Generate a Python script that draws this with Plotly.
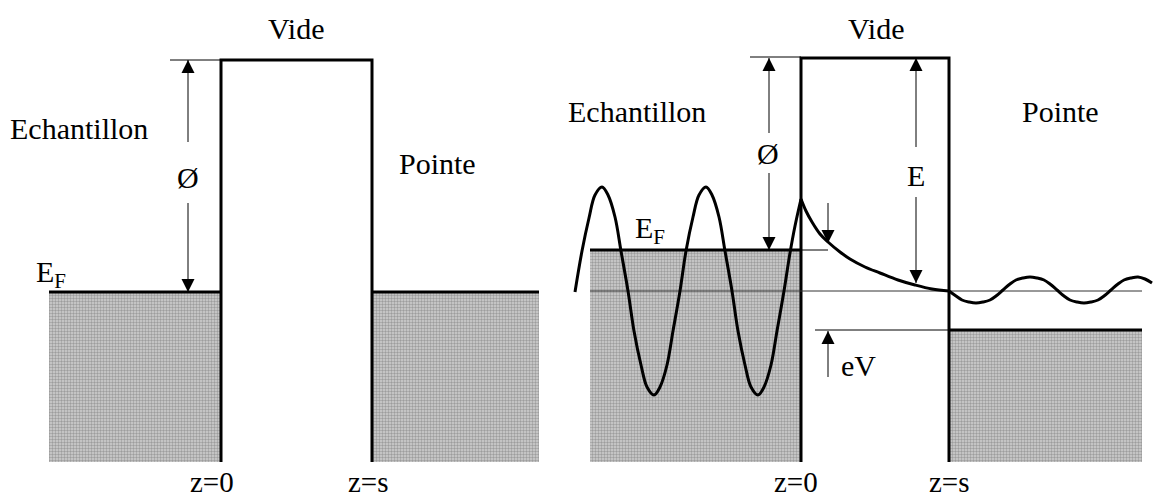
import plotly.graph_objects as go

W, H = 1153, 501
FONT = "Liberation Serif, Times New Roman, DejaVu Serif, serif"

# ---- energy profile, left diagram (no bias): Echantillon | Vide | Pointe ----
left_z0, left_zs = 221, 372          # barrier walls
left_top = 60                        # vacuum level
left_fermi = 292                     # Fermi level on both sides
left_bottom = 462
left_xmin, left_xmax = 49, 539

# ---- energy profile, right diagram (bias eV) ----
right_z0, right_zs = 801, 949
right_top = 58
right_fermi_s = 250                  # sample Fermi level
right_fermi_t = 330                  # tip Fermi level (shifted by eV)
right_E = 291                        # electron energy level
right_bottom = 462
right_xmin, right_xmax = 590, 1142

# wavefunction in the sample (standing wave)
wave_s_x = [575, 582, 589, 595, 602, 608, 615, 621, 628, 634, 641, 647, 654, 660, 667, 673,
            680, 686, 693, 699, 706, 712, 719, 725, 732, 738, 745, 751, 758, 764, 771, 777,
            784, 790, 795, 801]
wave_s_y = [292, 251, 218, 195, 187, 195, 217, 251, 291, 331, 365, 387, 395, 387, 365, 331,
            291, 251, 217, 195, 187, 195, 217, 251, 291, 331, 365, 387, 395, 387, 365, 331,
            291, 253, 226, 199]
# evanescent decay inside the barrier
decay_x = [801, 806, 812, 820, 828, 840, 850, 865, 880, 898, 915, 932, 949]
decay_y = [199, 211, 222, 234, 242, 252, 259, 267, 273, 280, 285, 289, 291]
# transmitted wave in the tip
wave_t_x = [949, 956, 962, 969, 976, 983, 990, 996, 1003, 1010, 1016, 1023, 1030, 1037, 1044,
            1050, 1057, 1064, 1070, 1077, 1084, 1091, 1098, 1104, 1111, 1118, 1124, 1131, 1138,
            1145, 1152]
wave_t_y = [291, 296, 300, 302, 303, 302, 300, 296, 290, 284, 280, 278, 277, 278, 280,
            284, 290, 296, 300, 302, 303, 302, 300, 296, 290, 284, 280, 278, 277, 279, 283]

fig = go.Figure()

pattern = dict(shape=".", fgcolor="#6a6a6a", bgcolor="#d0d0d0", size=3, solidity=0.5)


def box(x0, x1, y0, y1):
    fig.add_trace(go.Scatter(x=[x0, x1, x1, x0, x0], y=[y0, y0, y1, y1, y0], mode="lines",
                             line=dict(width=0), fill="toself", fillcolor="#c6c6c6",
                             fillpattern=pattern, hoverinfo="skip"))


def line(xs, ys, width=3, color="black", shape="linear"):
    fig.add_trace(go.Scatter(x=xs, y=ys, mode="lines", hoverinfo="skip",
                             line=dict(color=color, width=width, shape=shape)))


# filled electron seas
box(left_xmin, left_z0 - 1, left_fermi, left_bottom)
box(left_zs + 1, left_xmax, left_fermi, left_bottom)
box(right_xmin, right_z0 - 1, right_fermi_s, right_bottom)
box(right_zs + 1, right_xmax, right_fermi_t, right_bottom)

# left diagram outlines
line([left_xmin, left_z0], [left_fermi, left_fermi])
line([left_z0, left_z0, left_zs, left_zs], [left_bottom, left_top, left_top, left_bottom])
line([left_zs, left_xmax], [left_fermi, left_fermi])
line([170, left_z0], [left_top, left_top], width=1)

# right diagram outlines
line([right_xmin, right_z0], [right_fermi_s, right_fermi_s])
line([right_z0, right_z0, right_zs, right_zs], [right_bottom, right_top, right_top, right_bottom])
line([right_zs, right_xmax], [right_fermi_t, right_fermi_t])
line([750, right_z0], [right_top - 1, right_top - 1], width=1)
line([right_z0, 828], [right_fermi_s, right_fermi_s], width=1)
line([right_xmin, right_xmax], [right_E, right_E], width=1, color="#333")
line([815, right_zs], [right_fermi_t, right_fermi_t], width=1)

# wavefunction
line(wave_s_x, wave_s_y, width=3, shape="spline")
line(decay_x, decay_y, width=3, shape="spline")
line(wave_t_x, wave_t_y, width=3, shape="spline")


def arrow(x, y_tail, y_tip):
    """Vertical arrow: thin shaft plus a filled head whose tip sits on y_tip."""
    up = y_tip < y_tail
    line([x, x], [y_tail, y_tip], width=1)
    fig.add_trace(go.Scatter(x=[x], y=[y_tip], mode="markers", hoverinfo="skip",
                             marker=dict(symbol="arrow-up" if up else "arrow-down", size=13,
                                         color="black", line=dict(width=0))))


# work function arrows
arrow(188, 142, left_top)
arrow(188, 203, left_fermi)
arrow(769, 133, right_top)
arrow(769, 173, right_fermi_s)
# energy E
arrow(916, 147, right_top)
arrow(916, 197, 283)
# small arrow at the Fermi level in the barrier
arrow(828, 203, 243)
# bias eV
arrow(828, 377, right_fermi_t + 1)


def label(x, y, text, size=30):
    fig.add_annotation(x=x, y=y, xref="x", yref="y", text=text, showarrow=False,
                       font=dict(family=FONT, size=size, color="black"))


label(296, 28, "Vide")
label(79, 128, "Echantillon")
label(188, 177, "Ø")
label(437, 163, "Pointe")
label(51, 274, "E<sub>F</sub>")
label(212, 482, "z=0", size=29)
label(368, 482, "z=s", size=29)

label(876, 28, "Vide")
label(637, 111, "Echantillon")
label(768, 153, "Ø")
label(916, 175, "E")
label(1060, 111, "Pointe")
label(650, 230, "E<sub>F</sub>")
label(858, 365, "eV")
label(796, 482, "z=0", size=29)
label(949, 482, "z=s", size=29)

fig.update_layout(
    width=W, height=H, margin=dict(l=0, r=0, t=0, b=0),
    font=dict(family=FONT),
    paper_bgcolor="white", plot_bgcolor="white", showlegend=False,
    xaxis=dict(range=[0, W], visible=False, fixedrange=True),
    yaxis=dict(range=[H, 0], visible=False, fixedrange=True),
)

fig.write_html("out.html", config={"displayModeBar": False})
